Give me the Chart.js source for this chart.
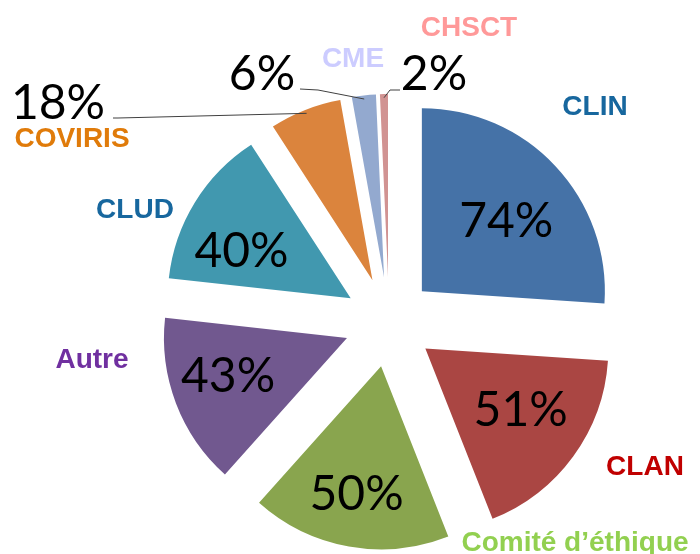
<!DOCTYPE html>
<html>
<head>
<meta charset="utf-8">
<script src="https://cdn.jsdelivr.net/npm/chart.js@4"></script>
<style>
  html, body { margin: 0; padding: 0; background: #fff; }
  #wrap { width: 700px; height: 554px; position: relative; }
</style>
</head>
<body>
<div id="wrap"><canvas id="pieChart"></canvas></div>
<script>
const categories = ['CLIN', 'CLAN', 'Comité d’éthique', 'Autre', 'CLUD', 'COVIRIS', 'CME', 'CHSCT'];
const percentages = [74, 51, 50, 43, 40, 18, 6, 2];

const sliceColors = ['#4572A7', '#AA4643', '#89A54E', '#71588F', '#4198AF', '#DB843D', '#93A9CF', '#D19392'];
const nameColors = ['#17679E', '#C00000', '#92D050', '#7030A0', '#17679E', '#E07B0A', '#CCCCFF', '#FF9999'];

// where the coloured category names sit (text boxes, like the original)
const namePos = {
  'CLIN': [595, 105],
  'CLAN': [645, 465],
  'Comité d’éthique': [575, 541],
  'Autre': [92, 358],
  'CLUD': [135, 208],
  'COVIRIS': [72, 137],
  'CME': [353, 57],
  'CHSCT': [469, 26]
};

// inside labels: fraction of radius, and angle nudge (deg) from the slice middle
const insideLabelPlace = {
  'CLIN': [0.603, 3],
  'CLAN': [0.617, -3.7],
  'Comité d’éthique': [0.705, 0.8],
  'Autre': [0.68, 3.8],
  'CLUD': [0.654, -7.6]
};

// small slices get their % outside, with a leader line
const outsideLabels = {
  'COVIRIS': { text: [58, 102], from: [113, 118], elbow: [118, 118] },
  'CME': { text: [262, 73], from: [300, 89], elbow: [318, 90] },
  'CHSCT': { text: [434, 73], from: [400, 90], elbow: [390, 90] }
};

const EXPLODE = 45;
const pctFont = '48px Lato';
const pctHalfCap = 17;
const nameHalfCap = 10;

// push every slice out along its middle angle
const explodePlugin = {
  id: 'explode',
  afterDatasetUpdate(chart, args) {
    chart.getDatasetMeta(args.index).data.forEach(arc => {
      const mid = (arc.startAngle + arc.endAngle) / 2;
      arc.x += Math.cos(mid) * EXPLODE;
      arc.y += Math.sin(mid) * EXPLODE;
    });
  }
};

const labelPlugin = {
  id: 'sliceLabels',
  afterDatasetsDraw(chart) {
    const ctx = chart.ctx;
    const arcs = chart.getDatasetMeta(0).data;
    ctx.save();
    ctx.textAlign = 'center';
    ctx.textBaseline = 'alphabetic';

    arcs.forEach((arc, i) => {
      const name = categories[i];
      const mid = (arc.startAngle + arc.endAngle) / 2;
      const r = arc.outerRadius;
      const txt = percentages[i] + '%';

      ctx.font = pctFont;
      ctx.fillStyle = '#000';
      const out = outsideLabels[name];
      if (out) {
        const ex = arc.x + Math.cos(mid) * r * 0.98;
        const ey = arc.y + Math.sin(mid) * r * 0.98;
        ctx.strokeStyle = '#404040';
        ctx.lineWidth = 1;
        ctx.beginPath();
        ctx.moveTo(out.from[0], out.from[1]);
        ctx.lineTo(out.elbow[0], out.elbow[1]);
        ctx.lineTo(ex, ey);
        ctx.stroke();
        ctx.fillText(txt, out.text[0], out.text[1] + pctHalfCap);
      } else {
        const [f, nudge] = insideLabelPlace[name];
        const a = mid + nudge * Math.PI / 180;
        ctx.fillText(txt, arc.x + Math.cos(a) * r * f, arc.y + Math.sin(a) * r * f + pctHalfCap);
      }

      ctx.font = 'bold 28px "Liberation Sans", Arial, sans-serif';
      ctx.fillStyle = nameColors[i];
      ctx.fillText(name, namePos[name][0], namePos[name][1] + nameHalfCap);
    });
    ctx.restore();
  }
};

new Chart(document.getElementById('pieChart').getContext('2d'), {
  type: 'pie',
  data: {
    labels: categories,
    datasets: [{
      data: percentages,
      backgroundColor: sliceColors,
      borderWidth: 0
    }]
  },
  options: {
    responsive: true,
    maintainAspectRatio: false,
    animation: false,
    events: [],
    radius: 183,
    layout: { padding: { left: 78, top: 90, right: 0, bottom: 0 } },
    plugins: {
      legend: { display: false },
      tooltip: { enabled: false }
    }
  },
  plugins: [explodePlugin, labelPlugin]
});
</script>
</body>
</html>
